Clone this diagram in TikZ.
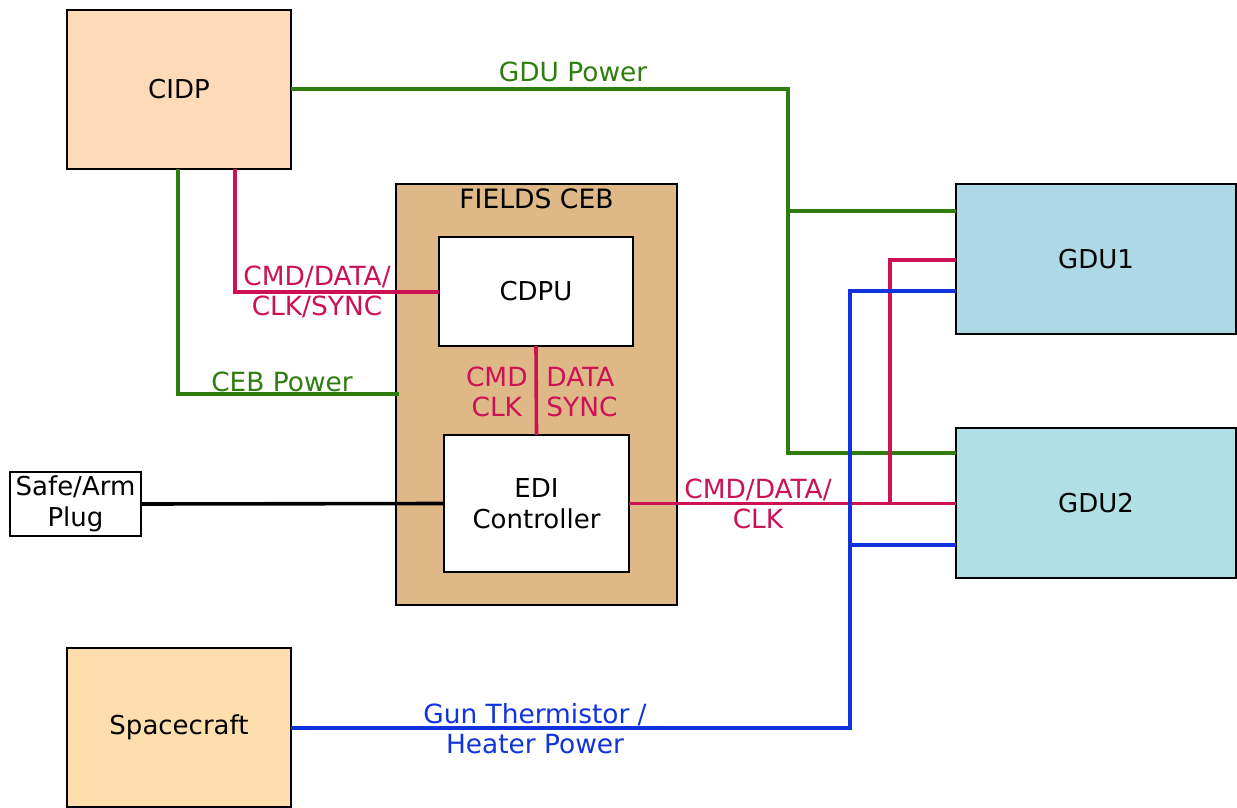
\documentclass[tikz,border=0pt]{standalone}
\usepackage{fontspec}
\setmainfont{DejaVu Sans}
\definecolor{cpeach}{RGB}{255,218,185}
\definecolor{cnavajo}{RGB}{255,222,173}
\definecolor{cburly}{RGB}{222,184,135}
\definecolor{clblue}{RGB}{173,216,230}
\definecolor{cpblue}{RGB}{176,224,230}
\definecolor{cgreen}{RGB}{46,125,14}
\definecolor{cred}{RGB}{204,17,85}
\definecolor{cblue}{RGB}{17,51,221}
\begin{document}
\begin{tikzpicture}[x=0.5pt,y=-0.5pt,
  box/.style={draw=black,line width=1.2pt,outer sep=0pt,inner sep=0pt,align=center,
    font=\fontsize{13}{15.5}\selectfont},
  wire/.style={line width=1.8pt},
  lab/.style={align=center,inner sep=1pt,font=\fontsize{13.2}{15}\selectfont}]
\useasboundingbox (0,0) rectangle (1237,808);
% boxes
\node[box,fill=cpeach,minimum width=112pt,minimum height=79.5pt] (cidp) at (179,89.5) {CIDP};
\node[box,fill=cburly,minimum width=140.5pt,minimum height=210.5pt] (ceb) at (536.5,394.5) {};
\node[font=\fontsize{13.3}{15}\selectfont] (cebt) at (536.5,199) {FIELDS CEB};
\node[box,fill=white,minimum width=97pt,minimum height=54.5pt] (cdpu) at (536,291.5) {CDPU};
\node[box,fill=white,minimum width=92.5pt,minimum height=68.5pt] (edi) at (536.5,503.5) {EDI\\Controller};
\node[box,fill=white,minimum width=65.5pt,minimum height=32pt] (safe) at (75.5,504) {Safe/Arm\\Plug};
\node[box,fill=cnavajo,minimum width=112pt,minimum height=79.5pt] (sc) at (179,727.5) {Spacecraft};
\node[box,fill=clblue,minimum width=140pt,minimum height=75pt] (gdu1) at (1096,259) {GDU1};
\node[box,fill=cpblue,minimum width=140pt,minimum height=75pt] (gdu2) at (1096,503) {GDU2};
% coordinates
\coordinate (gp1) at (788,89);
\coordinate (gp2) at (788,211);
\coordinate (gp3) at (788,453);
\coordinate (cp1) at (178,169);
\coordinate (cp2) at (178,394);
\coordinate (cp3) at (399,394);
\coordinate (r1a) at (235,169);
\coordinate (r1b) at (235,292);
\coordinate (r2a) at (890,504);
\coordinate (r2b) at (890,260);
\coordinate (b1) at (850,728);
\coordinate (b2) at (850,291);
\coordinate (b3) at (850,545);
% green
\draw[wire,cgreen] (cidp.east |- gp1) -- (gp1) -- (gp3) -- (gp3 -| gdu2.west);
\draw[wire,cgreen] (gp2) -- (gp2 -| gdu1.west);
\draw[wire,cgreen] (cp1) -- (cp2) -- (cp3);
% red
\draw[wire,cred] (r1a) -- (r1b) -- (r1b -| cdpu.west);
\draw[wire,cred] (cdpu.south) -- (edi.north);
\draw[wire,cred] (edi.east) -- (edi.east -| gdu2.west);
\draw[wire,cred] (r2a) -- (r2b) -- (r2b -| gdu1.west);
% blue
\draw[wire,cblue] (sc.east |- b1) -- (b1) -- (b2) -- (b2 -| gdu1.west);
\draw[wire,cblue] (b3) -- (b3 -| gdu2.west);
% black
\draw[wire,black] (safe.east) -- (edi.west);
% labels
\node[lab,text=cgreen] (lgp) at (573,72) {GDU Power};
\node[lab,text=cgreen] (lcp) at (282,382) {CEB Power};
\node[lab,text=cred] (lr1) at (317,292) {CMD/DATA/\\CLK/SYNC};
\node[lab,text=cred,anchor=east] (lr2) at (530,392) {CMD\\CLK};
\node[lab,text=cred,anchor=west,align=left] (lr3) at (544,392) {DATA\\SYNC};
\node[lab,text=cred] (lr4) at (758,504) {CMD/DATA/\\CLK};
\node[lab,text=cblue] (lb) at (535,729) {Gun Thermistor /\\Heater Power};
\end{tikzpicture}
\end{document}
